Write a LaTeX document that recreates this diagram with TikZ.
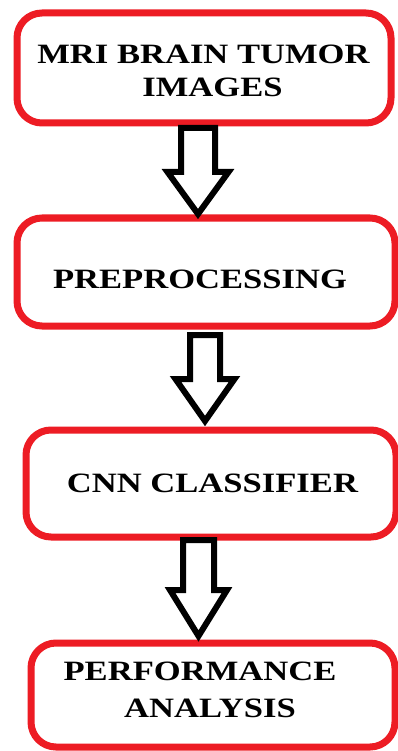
\documentclass[tikz,border=0pt]{standalone}
\usepackage{fontspec}
\newfontfamily\boxfont{Liberation Serif}[FakeStretch=1.235]
\definecolor{boxred}{RGB}{237,28,36}
\newcommand\blkarrow[7]{%
  % #1 name, #2 centre x, #3 top y, #4 head base y, #5 tip y, #6 shaft half, #7 head half
  \draw[blockarr] (#2-#6,#3) -- (#2+#6,#3) -- (#2+#6,#4) -- (#2+#7,#4)
     -- (#2,#5) coordinate (#1) -- (#2-#7,#4) -- (#2-#6,#4) -- cycle;}
\begin{document}
\begin{tikzpicture}[x=1pt,y=-1pt,
  stepbox/.style={draw=boxred,line width=7pt,rounded corners=25pt,fill=white,inner sep=0pt},
  lbl/.style={inner sep=0pt,anchor=base,font=\boxfont\bfseries\fontsize{28}{33}\selectfont,text=black},
  blockarr/.style={draw=black,line width=6pt,fill=white,line join=miter}]
\useasboundingbox (0,0) rectangle (398,751);
\fill[white] (0,0) rectangle (398,751);
% boxes
\node[stepbox,minimum width=374pt,minimum height=110pt] (b1) at (204,68) {};
\node[stepbox,minimum width=378pt,minimum height=108pt] (b2) at (206,272) {};
\node[stepbox,minimum width=370pt,minimum height=107pt] (b3) at (211,483.5) {};
\node[stepbox,minimum width=364pt,minimum height=104pt] (b4) at (213,695) {};
% block arrows
\blkarrow{a1}{198}{128}{172}{214}{17}{30.5}
\blkarrow{a2}{205}{335}{379}{421}{15}{29.5}
\blkarrow{a3}{198.5}{540}{590}{636}{15.5}{28.5}
% texts
\node[lbl] (t1a) at (203.5,64) {MRI BRAIN TUMOR};
\node[lbl] (t1b) at (212.5,97) {IMAGES};
\node[lbl] (t2) at (200,288) {PREPROCESSING};
\node[lbl] (t3) at (212.5,492) {CNN CLASSIFIER};
\node[lbl] (t4a) at (200,680) {PERFORMANCE};
\node[lbl] (t4b) at (210,717) {ANALYSIS};
\end{tikzpicture}
\end{document}
